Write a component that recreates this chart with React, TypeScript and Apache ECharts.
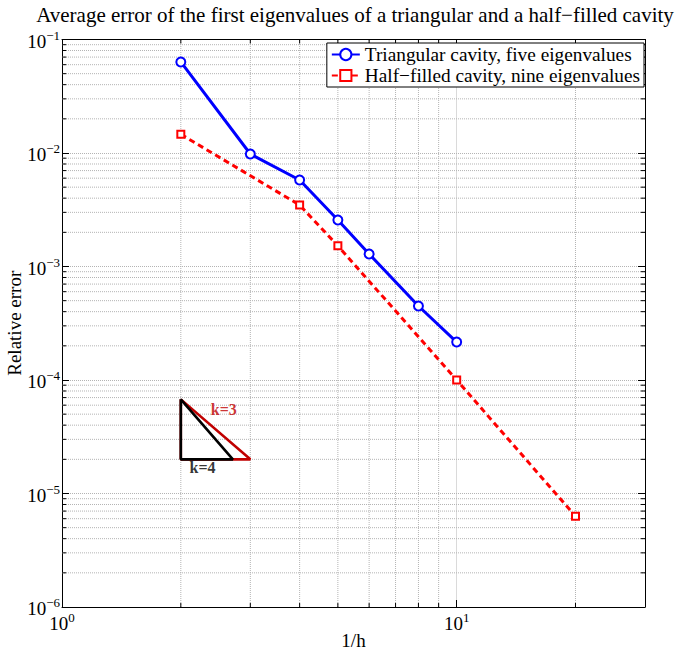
import React, { useEffect, useRef } from 'react';
import * as echarts from 'echarts';

// ---- data ----
const xTriangular = [2, 3, 4, 5, 6, 8, 10];
const yTriangular = [0.0634, 0.0098, 0.00578, 0.00257, 0.00129, 0.000449, 0.000216];
const xHalf = [2, 4, 5, 10, 20];
const yHalf = [0.0146, 0.00348, 0.00152, 0.0001, 6.3e-6];

const xMinorTicks = [2, 3, 4, 5, 6, 7, 8, 9, 20];
const yDecades = [1e-6, 1e-5, 1e-4, 1e-3, 1e-2];
const minorMultipliers = [2, 3, 4, 5, 6, 7, 8, 9];
const yMinorTicks = yDecades.flatMap((d) => minorMultipliers.map((m) => +(d * m).toPrecision(3)));

const slopeTriangleK3 = [[2, 6.75e-5], [2, 2e-5], [3, 2e-5], [2, 6.75e-5]];
const slopeTriangleK4 = [[2, 6.75e-5], [2, 2e-5], [2.71, 2e-5], [2, 6.75e-5]];
const slopeLabels = [
  { text: 'k=3', x: 2.57, y: 5.45e-5, color: '#c00000' },
  { text: 'k=4', x: 2.27, y: 1.68e-5, color: '#000000' },
];

const X_MIN = 1;
const X_MAX = 30;
const Y_MIN = 1e-6;
const Y_MAX = 1e-1;

const SERIF = "Liberation Serif";
const TITLE = 'Average error of the first eigenvalues of a triangular and a half\u2212filled cavity';
const NAME_TRI = 'Triangular cavity, five eigenvalues';
const NAME_HALF = 'Half\u2212filled cavity, nine eigenvalues';

const powLabel = (v: number) => {
  const l = Math.log10(v);
  const e = Math.round(l);
  if (Math.abs(l - e) > 1e-6) return '';
  const es = e < 0 ? '\u2212' + Math.abs(e) : String(e);
  return `{b|10}{s|${es}}`;
};

const labelRich = {
  b: { fontSize: 19, fontFamily: SERIF, color: '#000', lineHeight: 22, verticalAlign: 'bottom' },
  s: { fontSize: 13, fontFamily: SERIF, color: '#000', verticalAlign: 'top' },
};

export default function App() {
  const ref = useRef<HTMLDivElement>(null);

  useEffect(() => {
    if (!ref.current) return;
    const chart = echarts.init(ref.current, undefined, { renderer: 'svg' });

    const gridLineStyle = { type: 'dotted', color: '#b4b4b4', width: 1 };
    const tickLenX = 1.025; // multiplicative length of minor ticks along x
    const tickLenY = 1.085; // multiplicative length of minor ticks along y

    const segSeries = (data: number[][], style: any, z: number) => ({
      type: 'line',
      data,
      symbol: 'none',
      silent: true,
      lineStyle: style,
      z,
      legendHoverLink: false,
    });

    const gridSeries: any[] = [];
    xMinorTicks.forEach((v) => {
      gridSeries.push(segSeries([[v, Y_MIN], [v, Y_MAX]], gridLineStyle, 1));
    });
    yMinorTicks.forEach((v) => {
      gridSeries.push(segSeries([[X_MIN, v], [X_MAX, v]], gridLineStyle, 1));
    });
    const tickStyle = { type: 'solid', color: '#000', width: 1 };
    yMinorTicks.forEach((v) => {
      gridSeries.push(segSeries([[X_MIN, v], [X_MIN * tickLenX, v]], tickStyle, 2));
      gridSeries.push(segSeries([[X_MAX / tickLenX, v], [X_MAX, v]], tickStyle, 2));
    });
    xMinorTicks.forEach((v) => {
      gridSeries.push(segSeries([[v, Y_MIN], [v, Y_MIN * tickLenY]], tickStyle, 2));
      gridSeries.push(segSeries([[v, Y_MAX / tickLenY], [v, Y_MAX]], tickStyle, 2));
    });

    const baseAxis = {
      type: 'log',
      logBase: 10,
      axisLine: { show: true, onZero: false, lineStyle: { color: '#000', width: 1 } },
      axisTick: { show: true, inside: true, length: 7, lineStyle: { color: '#000', width: 1 } },
    };

    chart.setOption({
      animation: false,
      backgroundColor: '#fff',
      graphic: [
        {
          type: 'text',
          x: 355,
          y: 4,
          style: {
            text: TITLE,
            fontFamily: SERIF,
            fontSize: 21,
            fill: '#000',
            textAlign: 'center',
            textVerticalAlign: 'top',
          },
        },
      ],
      grid: {
        left: 62,
        right: 30,
        top: 39.5,
        bottom: 47,
        containLabel: false,
        outerBoundsMode: 'none',
      },
      legend: {
        data: [NAME_TRI, NAME_HALF],
        orient: 'vertical',
        right: 31,
        top: 43,
        itemWidth: 28,
        itemHeight: 14,
        itemGap: 2,
        padding: [2, 4, 2, 4],
        borderColor: '#000',
        borderWidth: 1,
        borderRadius: 0,
        backgroundColor: '#fff',
        textStyle: { fontFamily: SERIF, fontSize: 19.3, color: '#000' },
      },
      xAxis: [
        {
          ...baseAxis,
          min: X_MIN,
          max: X_MAX,
          position: 'bottom',
          axisLabel: { formatter: powLabel, rich: labelRich, margin: 4, showMaxLabel: false },
          splitLine: { show: true, lineStyle: gridLineStyle },
          name: '1/h',
          nameLocation: 'middle',
          nameGap: 24,
          nameMoveOverlap: false,
          nameTextStyle: { fontFamily: SERIF, fontSize: 19, color: '#000' },
        },
        {
          ...baseAxis,
          min: X_MIN,
          max: X_MAX,
          position: 'top',
          axisLabel: { show: false },
          splitLine: { show: false },
        },
      ],
      yAxis: [
        {
          ...baseAxis,
          min: Y_MIN,
          max: Y_MAX,
          position: 'left',
          axisLabel: { formatter: powLabel, rich: labelRich, margin: 2 },
          splitLine: { show: true, lineStyle: gridLineStyle },
          name: 'Relative error',
          nameLocation: 'middle',
          nameGap: 38,
          nameMoveOverlap: false,
          nameRotate: 90,
          nameTextStyle: { fontFamily: SERIF, fontSize: 19, color: '#000' },
        },
        {
          ...baseAxis,
          min: Y_MIN,
          max: Y_MAX,
          position: 'right',
          axisLabel: { show: false },
          splitLine: { show: false },
        },
      ],
      series: [
        ...gridSeries,
        {
          type: 'line',
          name: 'slope-k3',
          data: slopeTriangleK3,
          symbol: 'none',
          lineStyle: { color: '#c00000', width: 2.6 },
          silent: true,
          z: 3,
        },
        {
          type: 'line',
          name: 'slope-k4',
          data: slopeTriangleK4,
          symbol: 'none',
          lineStyle: { color: '#000', width: 2.6 },
          silent: true,
          z: 4,
        },
        {
          type: 'scatter',
          name: 'slope-labels',
          symbolSize: 0,
          silent: true,
          z: 5,
          data: slopeLabels.map((l) => ({
            value: [l.x, l.y],
            label: {
              show: true,
              position: 'inside',
              formatter: l.text,
              color: l.color,
              fontFamily: SERIF,
              fontWeight: 'bold',
              fontSize: 16,
            },
          })),
        },
        {
          type: 'line',
          name: NAME_TRI,
          data: xTriangular.map((x, i) => [x, yTriangular[i]]),
          symbol: 'emptyCircle',
          symbolSize: 9,
          itemStyle: { color: '#0000ff', borderWidth: 2.8 },
          lineStyle: { color: '#0000ff', width: 3 },
          z: 6,
        },
        {
          type: 'line',
          name: NAME_HALF,
          data: xHalf.map((x, i) => [x, yHalf[i]]),
          symbol: 'emptyRect',
          symbolSize: 7,
          itemStyle: { color: '#ff0000', borderWidth: 3 },
          lineStyle: { color: '#ff0000', width: 3, type: [6, 4] },
          z: 6,
        },
      ],
    });

    return () => chart.dispose();
  }, []);

  return <div ref={ref} style={{ width: 675, height: 654, position: 'absolute', left: 0, top: 0 }} />;
}
